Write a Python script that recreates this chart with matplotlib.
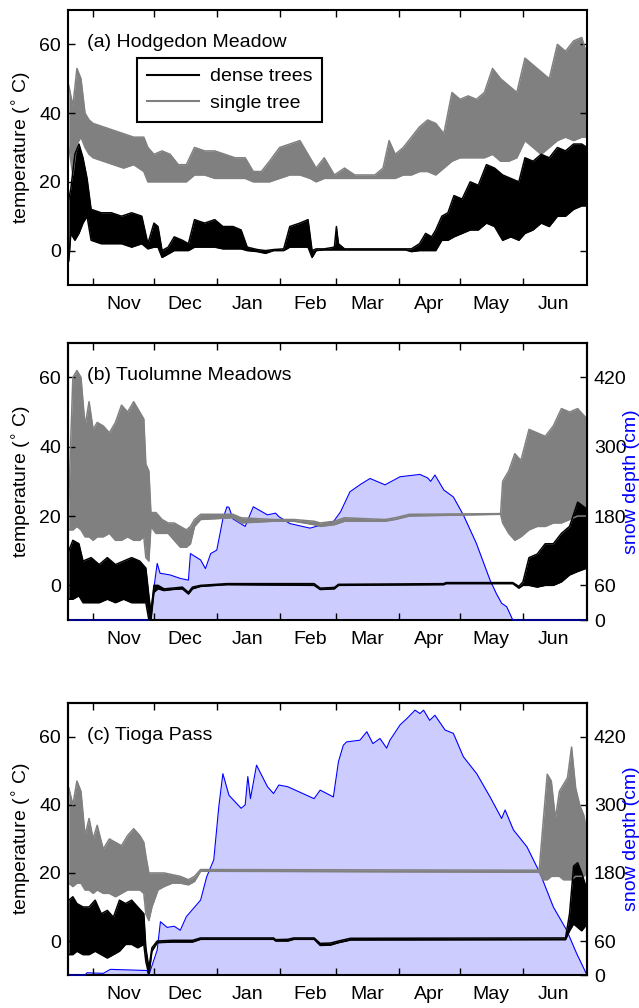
import datetime as dt

import matplotlib
matplotlib.use('Agg')
import matplotlib.pyplot as plt
import matplotlib.dates as mdates
import numpy as np

plt.rcParams['font.family'] = ['Liberation Sans', 'DejaVu Sans']
plt.rcParams['font.size'] = 14

# days counted from 1 Oct 2008
base = mdates.date2num(dt.datetime(2008, 10, 1))
xlim_days = (18.6, 274.6)

# ---- (a) Hodgedon Meadow ----
a_single_d = [19, 21, 23, 25, 27, 29, 31, 36, 41, 46,
              51, 56, 58, 61, 65, 69, 73, 77, 81, 86,
              91, 96, 101, 106, 110, 114, 118, 123, 128, 133,
              138, 141, 145, 150, 155, 160, 165, 170, 174, 177,
              180, 184, 188, 192, 196, 200, 204, 208, 212, 216,
              220, 224, 228, 232, 236, 240, 244, 248, 252, 256,
              260, 264, 268, 272, 274.6]
a_single_lo = [30, 22, 31, 33, 30, 28, 27, 26, 25, 24,
               25, 23, 20, 20, 20, 20, 20, 20, 22, 22,
               21, 21, 21, 21, 20, 20, 20, 21, 22, 22,
               21, 20, 21, 21, 21, 21, 21, 21, 21, 21,
               21, 22, 22, 23, 23, 22, 24, 26, 27, 27,
               27, 27, 28, 26, 26, 27, 32, 30, 28, 30,
               32, 33, 32, 33, 33]
a_single_hi = [48, 42, 53, 50, 40, 38, 37, 36, 35, 34,
               33, 33, 30, 28, 29, 28, 25, 25, 30, 29,
               29, 28, 27, 27, 23, 23, 26, 30, 31, 32,
               27, 24, 27, 22, 24, 22, 22, 22, 24, 32,
               28, 30, 33, 36, 38, 37, 34, 46, 44, 45,
               44, 46, 53, 50, 48, 46, 56, 54, 52, 50,
               60, 58, 61, 62, 57]

a_dense_d = [19, 20, 22, 24, 26, 28, 30, 35, 40, 45,
             50, 55, 58, 61, 63, 65, 68, 71, 75, 78,
             81, 86, 91, 95, 100, 104, 107, 112, 116, 120,
             125, 128, 133, 137, 139, 141, 145, 150, 151, 152,
             155, 185, 188, 192, 195, 198, 200, 203, 206, 209,
             213, 217, 221, 225, 229, 233, 237, 241, 244, 248,
             252, 256, 260, 264, 268, 272, 274.6]
a_dense_lo = [-3, 5, 3, 5, 8, 10, 3, 2, 2, 2,
              1, 2, 0.5, 1, 1, -2, -1, 0, 0, 0,
              1, 1, 1, 0.5, 0.5, 0.5, 0, -0.3, -0.8, 0,
              0, 1, 1, 1, -2, 0, 0.2, 0.2, 0.2, 0.2,
              0.2, 0.2, -0.3, 0, 0, 0, 0, 3, 3, 4,
              5, 6, 6, 8, 7, 3, 4, 3, 5, 6,
              8, 7, 10, 10, 12, 13, 13]
a_dense_hi = [15, 18, 28, 31, 27, 21, 12, 11, 11, 10,
              11, 10, 2, 8, 7, 0, 1, 4, 3, 2,
              9, 8, 9, 7, 7, 6, 1, 0.3, 0, 0.3,
              0.5, 7, 8, 9, 0, 0.5, 0.5, 1, 7, 2,
              0.5, 0.5, 0.5, 2, 5, 4, 6, 10, 11, 16,
              15, 20, 19, 25, 24, 22, 21, 20, 27, 26,
              28, 27, 30, 29, 31, 31, 30]

# ---- (b) Tuolumne Meadows ----
b_single_d = [19, 21, 23, 25, 27, 29, 31, 33, 36, 39,
              42, 45, 48, 51, 54, 56, 57, 58.5, 59.5, 62,
              65, 68, 71, 74, 77, 79, 81, 84, 100, 104,
              120, 130, 140, 143, 150, 155, 175, 180, 187, 232,
              233, 236, 239, 242, 246, 250, 254, 258, 262, 266,
              270, 274.6]
b_single_lo = [16, 16, 17, 16, 14, 14, 13, 14, 14, 15,
               13, 13, 14, 13, 13, 14, 8, 7, 17, 15,
               15, 15, 13, 11, 11, 12, 17, 19, 19.5, 18,
               18.5, 18.5, 17.5, 17, 17.5, 18.5, 18.5, 19, 20, 20.5,
               18, 15, 13, 14, 16, 17, 17, 18, 18, 19,
               20, 20]
b_single_hi = [25, 60, 62, 60, 46, 53, 45, 47, 46, 44,
               47, 52, 50, 53, 50, 48, 35, 33, 21, 21,
               19, 18, 18, 17, 16, 17, 19, 20.5, 20.5, 19.5,
               19, 19, 18.5, 18, 18.5, 19.5, 19, 19.5, 20.5, 20.7,
               30, 33, 38, 36, 45, 44, 43, 46, 51, 50,
               51, 48]

b_dense_d = [19, 21, 24, 26, 30, 34, 38, 42, 46, 50,
             54, 57, 58.5, 59.5, 61, 63, 66, 70, 75, 78,
             80, 84, 97, 140, 143, 150, 152, 204, 205, 238,
             241, 243, 246, 250, 254, 258, 262, 266, 270, 274.6]
b_dense_lo = [-4, -4, -3, -5, -5, -5, -4, -5, -4, -5,
              -5, -5, -10, -10, -2, -1, -1.5, -1.2, -1, -2.5,
              -1, -0.3, 0.2, 0, -1.2, -1, 0, 0.2, 0.5, 0.5,
              -0.8, 0, 0, -0.5, 0, 0, 1, 3, 4, 5]
b_dense_hi = [10, 13, 12, 7, 8, 6, 8, 6, 7, 8,
              7, 5, -3, -8, 0, 0, -1, -0.8, -0.5, -2,
              -0.5, 0, 0.5, 0.5, -0.8, -0.6, 0.3, 0.5, 0.8, 0.8,
              -0.3, 1, 8, 9, 12, 12, 15, 17, 24, 22]

b_snow_d = [18.6, 58.5, 60, 62.6, 64, 69, 74, 78, 79, 84,
            86.4, 89, 92, 95, 97, 98, 100, 106, 110, 117,
            121, 122.6, 128, 138, 143, 149.5, 153, 157.7, 163, 167.6,
            175, 182.4, 192.2, 196, 197.5, 199.6, 204, 208.7, 213.6, 220,
            226.8, 230, 232.5, 235, 238, 274.6]
b_snow = [0, 0, 30, 98, 81, 78, 72, 69, 115, 104,
          89, 115, 121, 175, 196, 195, 175, 162, 196, 182,
          185, 179, 167, 159, 164, 170, 187, 222, 235, 245,
          234, 248, 252, 246, 240, 251, 225, 213, 182, 133,
          69, 45, 29, 23, 0, 0]

# ---- (c) Tioga Pass ----
c_single_d = [19, 21, 23, 25, 27, 29, 31, 33, 36, 39,
              42, 45, 48, 51, 54, 56, 57, 58.5, 60, 63,
              66, 70, 74, 78, 81, 84, 251, 253, 255, 257,
              259, 261, 263, 265, 267, 269, 271, 273, 274.6]
c_single_lo = [17, 16, 17, 17, 15, 15, 14, 15, 14, 14,
               13, 14, 15, 15, 15, 14, 8, 6, 10, 15,
               16, 17, 17, 16.5, 17.5, 20.5, 20.2, 18, 18, 19,
               19, 19, 18, 18, 18, 19, 19, 19, 20]
c_single_hi = [45, 40, 47, 44, 31, 36, 30, 34, 27, 30,
               29, 28, 31, 33, 31, 29, 25, 20, 20, 20,
               20, 19.5, 19, 18, 19, 21, 20.8, 35, 49, 47,
               36, 44, 46, 48, 57, 45, 40, 37, 32]

c_dense_d = [19, 21, 23, 26, 29, 32, 35, 38, 41, 44,
             47, 50, 53, 56, 57, 58.5, 60, 62.6, 70, 80,
             84, 120, 121, 127, 130, 140, 143, 148, 152, 158,
             264, 266, 268, 270, 272, 274.6]
c_dense_lo = [-4, -4, -3, -4, -4, -3, -4, -5, -4, -3,
              -1, -1, -2, -1, -6, -10, -3, -0.5, -0.3, -0.3,
              0.5, 0.5, 0, 0, 0.5, 0.5, -1.3, -1.2, -0.5, 0.3,
              0.4, 3, 5, 4, 3, 5]
c_dense_hi = [12, 13, 11, 10, 10, 12, 8, 9, 7, 12,
              11, 12, 10, 8, -2, -8, -2, 0, 0.2, 0.2,
              0.9, 0.9, 0.4, 0.5, 0.9, 0.9, -0.7, -0.6, 0, 0.8,
              0.9, 8, 22, 23, 20, 15]

c_snow_d = [18.6, 27, 28, 36, 39.5, 57.6, 58.5, 62.6, 64.2, 67.5,
            71, 74, 77, 84, 87, 90.5, 93, 95, 98, 104,
            106, 107.3, 108.6, 111.6, 117, 120, 122.6, 127, 140, 142.4,
            143, 149.5, 152, 154.4, 156, 162.6, 166, 169, 172.5, 175.8,
            177.4, 182.4, 185.7, 189.8, 192.2, 194, 197, 199.6, 204.6, 208.7,
            213.6, 220.2, 226.8, 232.5, 234.2, 238.3, 245, 251.5, 258, 264.6,
            269.5, 274.6]
c_snow = [0, 0, 4, 3, 10, 8, 0, 44, 94, 84,
          86, 79, 103, 132, 173, 203, 297, 355, 317, 294,
          300, 350, 311, 370, 332, 320, 335, 332, 311, 323,
          326, 314, 376, 405, 411, 414, 429, 408, 417, 400,
          414, 441, 452, 467, 461, 467, 449, 458, 432, 426,
          385, 355, 314, 276, 291, 256, 226, 179, 120, 79,
          38, 0]

panels = [
    ('(a) Hodgedon Meadow', a_dense_d, a_dense_lo, a_dense_hi,
     a_single_d, a_single_lo, a_single_hi, None, None),
    ('(b) Tuolumne Meadows', b_dense_d, b_dense_lo, b_dense_hi,
     b_single_d, b_single_lo, b_single_hi, b_snow_d, b_snow),
    ('(c) Tioga Pass', c_dense_d, c_dense_lo, c_dense_hi,
     c_single_d, c_single_lo, c_single_hi, c_snow_d, c_snow),
]

tick_months = [11, 12, 1, 2, 3, 4, 5, 6]

gray = (0.5, 0.5, 0.5)
snow_face = (0.8, 0.8, 1.0)

fig = plt.figure(figsize=(6.39, 10.08), dpi=100)
boxes = [(0.1064, 0.7173, 0.8122, 0.2728),
         (0.1064, 0.3849, 0.8122, 0.2751),
         (0.1064, 0.0327, 0.8122, 0.2701)]


def band(ax, d, lo, hi, color, label):
    x = base + np.asarray(d, dtype=float)
    ax.fill_between(x, lo, hi, color=color, lw=0)
    ax.plot(x, lo, color=color, lw=1.1)
    ax.plot(x, hi, color=color, lw=1.1, label=label)


for box, (title, dd, dlo, dhi, sd, slo, shi, snd, sn) in zip(boxes, panels):
    ax = fig.add_axes(box)
    if snd is not None:
        axs = ax.twinx()
        xs = base + np.asarray(snd, dtype=float)
        axs.fill_between(xs, 0, sn, color=snow_face, lw=0)
        axs.plot(xs, sn, color='blue', lw=0.8, clip_on=False, zorder=3)
        axs.set_ylim(0, 480)
        axs.set_xlim(base + xlim_days[0], base + xlim_days[1])
        axs.set_yticks([0, 60, 180, 300, 420])
        axs.tick_params(direction='in', length=5, width=1, pad=5)
        for s in axs.spines.values():
            s.set_linewidth(1.5)
        # label sits over the tick numbers, as in the original figure
        axs.text(1.085, 0.5, 'snow depth (cm)', rotation=90, color='blue',
                 ha='center', va='center', transform=axs.transAxes)
        ax.set_zorder(axs.get_zorder() + 1)
        ax.patch.set_visible(False)
        ax.spines['bottom'].set_visible(False)

    band(ax, sd, slo, shi, gray, 'single tree')
    band(ax, dd, dlo, dhi, 'black', 'dense trees')

    ax.set_ylim(-10, 70)
    ax.set_yticks([0, 20, 40, 60])
    ax.set_xlim(base + xlim_days[0], base + xlim_days[1])
    ax.xaxis.set_major_locator(mdates.MonthLocator(bymonth=tick_months))
    ax.xaxis.set_major_formatter(plt.NullFormatter())
    ax.xaxis.set_minor_locator(mdates.MonthLocator(bymonth=tick_months, bymonthday=16))
    ax.xaxis.set_minor_formatter(mdates.DateFormatter('%b'))
    ax.tick_params(axis='x', which='minor', length=0, pad=8)
    ax.tick_params(which='major', direction='in', length=5, width=1, pad=5,
                   top=True, right=(snd is None))
    for s in ax.spines.values():
        s.set_linewidth(1.5)
    ax.text(-0.0886, 0.5, 'temperature ($^{\\circ}$ C)', rotation=90,
            ha='center', va='center', transform=ax.transAxes)
    ax.text(0.037, 0.88, title, ha='left', va='center', transform=ax.transAxes)

    if snd is None:
        h, l = ax.get_legend_handles_labels()
        leg = ax.legend(h[::-1], l[::-1], loc='upper left',
                        bbox_to_anchor=(0.133, 0.825), borderaxespad=0,
                        fancybox=False, framealpha=1, edgecolor='black',
                        handlelength=2.7, handletextpad=0.55,
                        borderpad=0.5, labelspacing=0.45)
        leg.get_frame().set_linewidth(1.5)
        for ln in leg.get_lines():
            ln.set_linewidth(1.5)

fig.savefig('out.png', dpi=100)
